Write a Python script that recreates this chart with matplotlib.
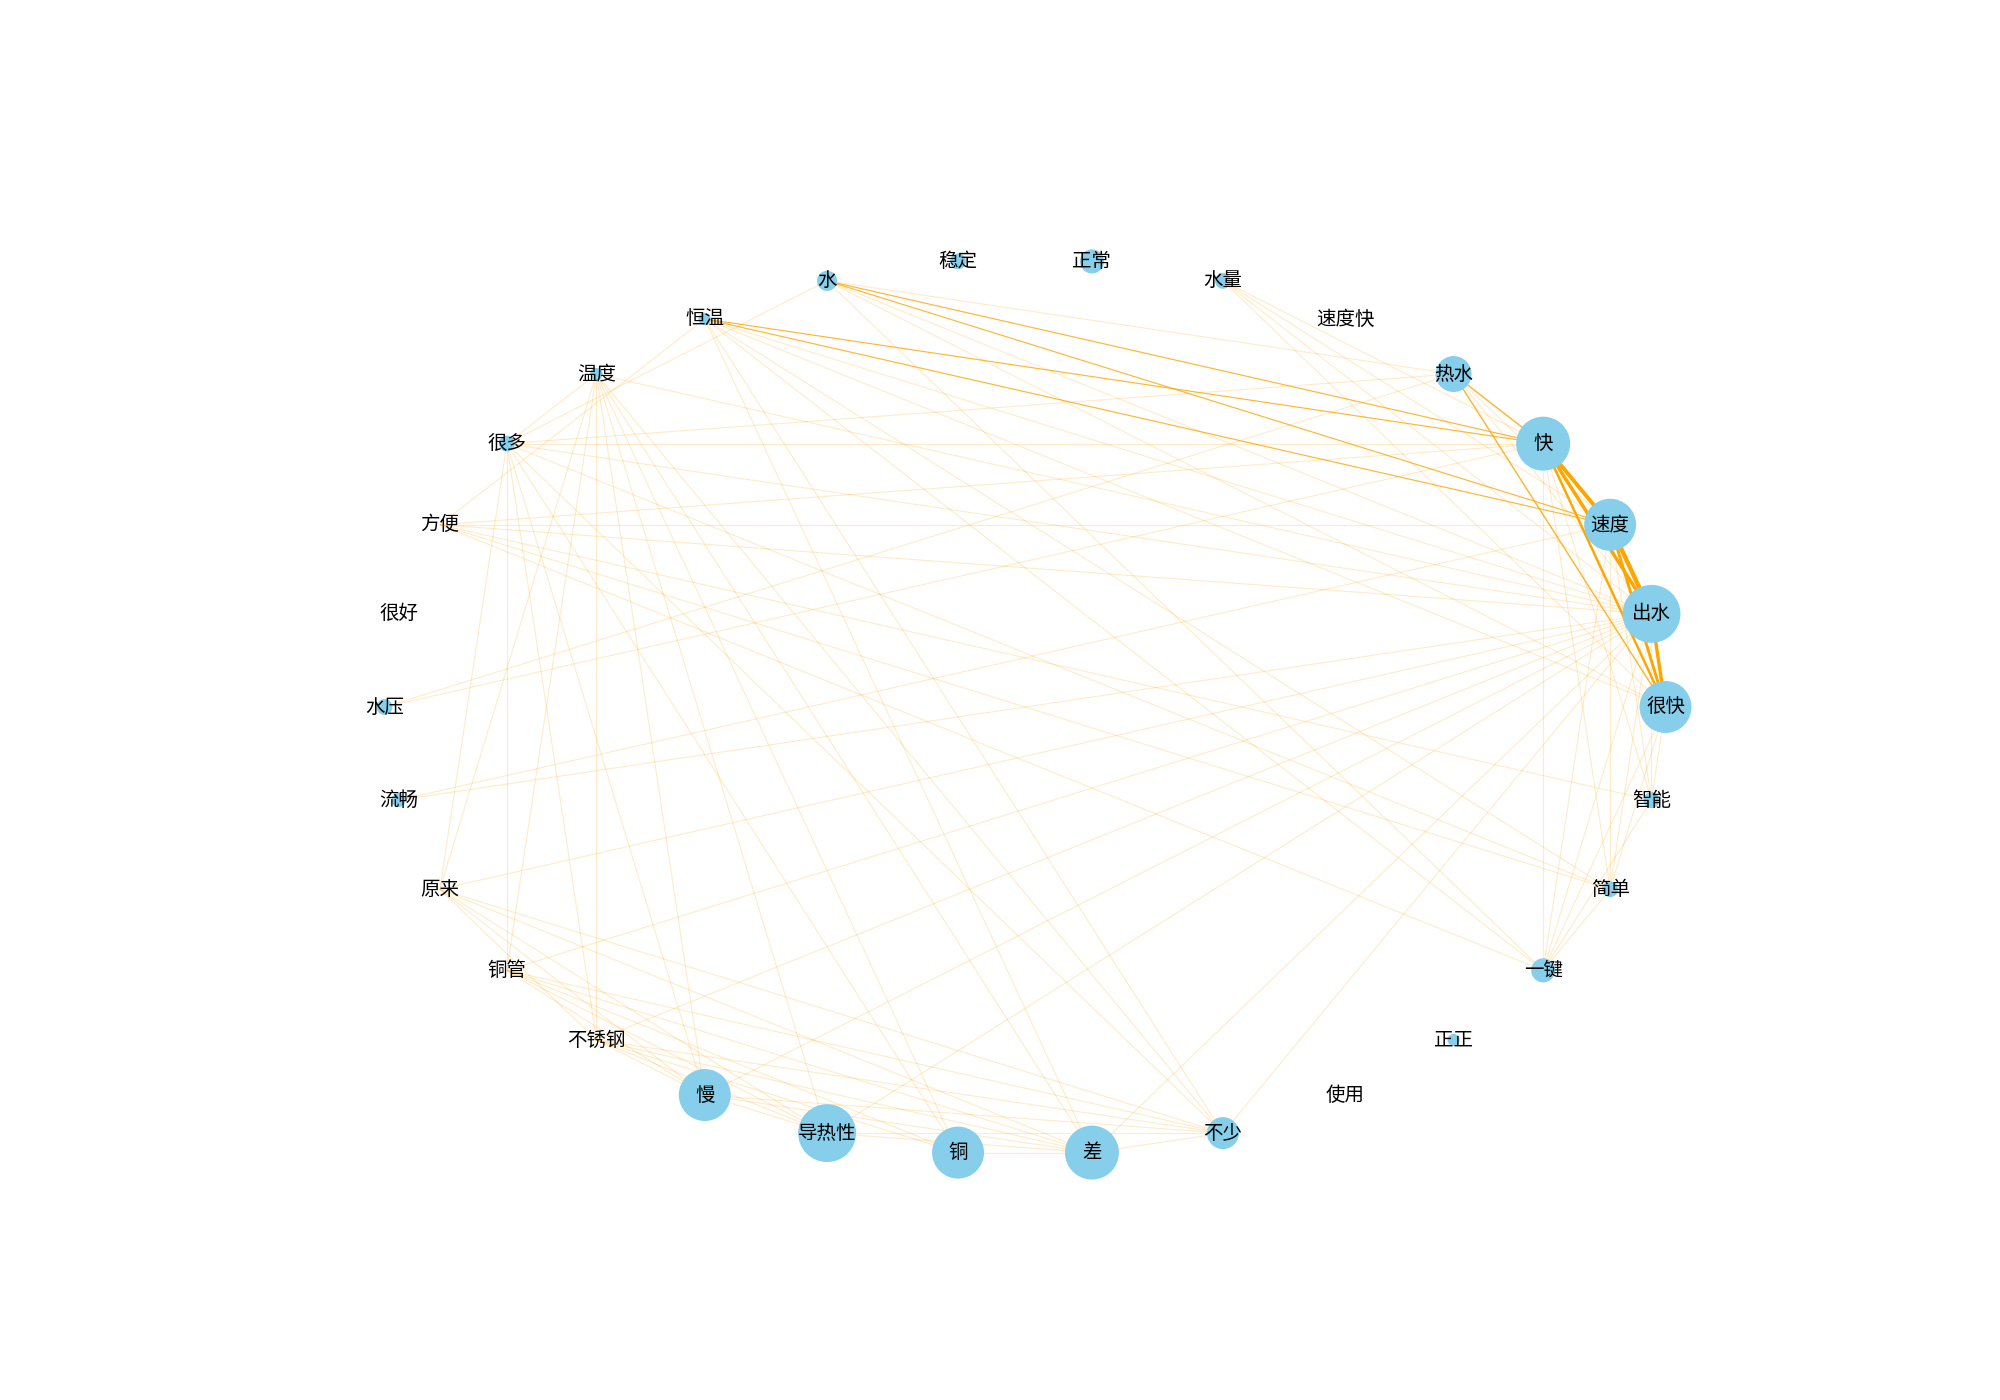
import numpy as np
import matplotlib
matplotlib.use("Agg")
import matplotlib.pyplot as plt
from matplotlib.collections import LineCollection

plt.rcParams['font.family'] = ['Noto Sans CJK SC', 'DejaVu Sans']

# nodes in circular order (counter-clockwise, starting from the right)
nodes = ['很快', '出水', '速度', '快', '热水', '速度快', '水量', '正常', '稳定', '水',
         '恒温', '温度', '很多', '方便', '很好', '水压', '流畅', '原来', '铜管', '不锈钢',
         '慢', '导热性', '铜', '差', '不少', '使用', '正正', '一键', '简单', '智能']
node_sizes = [1400, 1740, 1400, 1510, 670, 0, 130, 300, 130, 210,
              80, 80, 130, 0, 0, 130, 100, 0, 0, 0,
              1400, 1740, 1400, 1510, 530, 0, 75, 300, 130, 130]

# co-occurrence edges (word, word, weight)
heavy_edges = [('快', '速度', 8), ('快', '出水', 7), ('速度', '出水', 9),
               ('出水', '很快', 7), ('速度', '很快', 6), ('快', '很快', 5)]
medium_edges = [('热水', '快', 3), ('热水', '很快', 3), ('水', '快', 2),
                ('水', '速度', 2), ('恒温', '快', 2), ('恒温', '速度', 2)]
light_edges = {
    '热水': ['速度', '出水', '水', '很多', '水压'],
    '水': ['很多', '出水', '很快', '一键'],
    '水量': ['快', '速度', '出水', '很快'],
    '恒温': ['方便', '出水', '很快', '简单', '一键', '差', '不少'],
    '温度': ['很多', '出水', '原来', '铜管', '不锈钢', '慢', '导热性', '铜', '差', '不少'],
    '很多': ['快', '出水', '原来', '铜管', '不锈钢', '慢', '铜', '不少', '简单'],
    '方便': ['快', '速度', '出水', '智能', '简单', '一键'],
    '水压': ['快'],
    '流畅': ['速度', '出水'],
    '原来': ['出水', '不锈钢', '慢', '导热性', '差', '不少'],
    '铜管': ['出水', '慢', '导热性', '铜', '差', '不少'],
    '不锈钢': ['出水', '慢', '导热性', '铜', '差', '不少'],
    '慢': ['出水', '导热性', '差', '不少'],
    '导热性': ['出水', '差', '不少'],
    '铜': ['差'],
    '差': ['出水', '不少'],
    '不少': ['出水'],
    '智能': ['快', '速度', '出水', '很快', '一键'],
    '简单': ['快', '速度', '出水', '很快', '一键'],
    '一键': ['快', '速度', '出水', '很快'],
}

edges = heavy_edges + medium_edges
for a, targets in light_edges.items():
    for b in targets:
        edges.append((a, b, 1))

# circular layout
n = len(nodes)
theta = np.arange(n) * 2 * np.pi / n
pos = {name: (np.cos(t), np.sin(t)) for name, t in zip(nodes, theta)}

fig = plt.figure(figsize=(20, 14), dpi=100)
ax = fig.add_subplot(111)


def edge_style(w):
    # thin pale lines for single co-occurrence, stronger for repeated ones
    if w == 1:
        return 0.8, 0.22
    if w < 5:
        return 0.45 + 0.2 * w, 0.8
    return 0.35 * w, 1.0


# light edges first so the heavy ones sit on top
edges = sorted(edges, key=lambda e: e[2])
segs = [[pos[a], pos[b]] for a, b, w in edges]
styles = [edge_style(w) for a, b, w in edges]
widths = [s[0] for s in styles]
colors = [(1.0, 0.647, 0.0, s[1]) for s in styles]
lc = LineCollection(segs, linewidths=widths, colors=colors, zorder=1)
ax.add_collection(lc)

xy = np.array([pos[nm] for nm in nodes])
ax.scatter(xy[:, 0], xy[:, 1], s=node_sizes, c='skyblue', zorder=2, linewidths=0)

for nm in nodes:
    x, y = pos[nm]
    ax.text(x, y, nm, fontsize=14, ha='center', va='center', zorder=3)

ax.set_xlim(-1.21, 1.21)
ax.set_ylim(-1.203, 1.203)
ax.axis('off')

plt.savefig('out.png', dpi=100)
